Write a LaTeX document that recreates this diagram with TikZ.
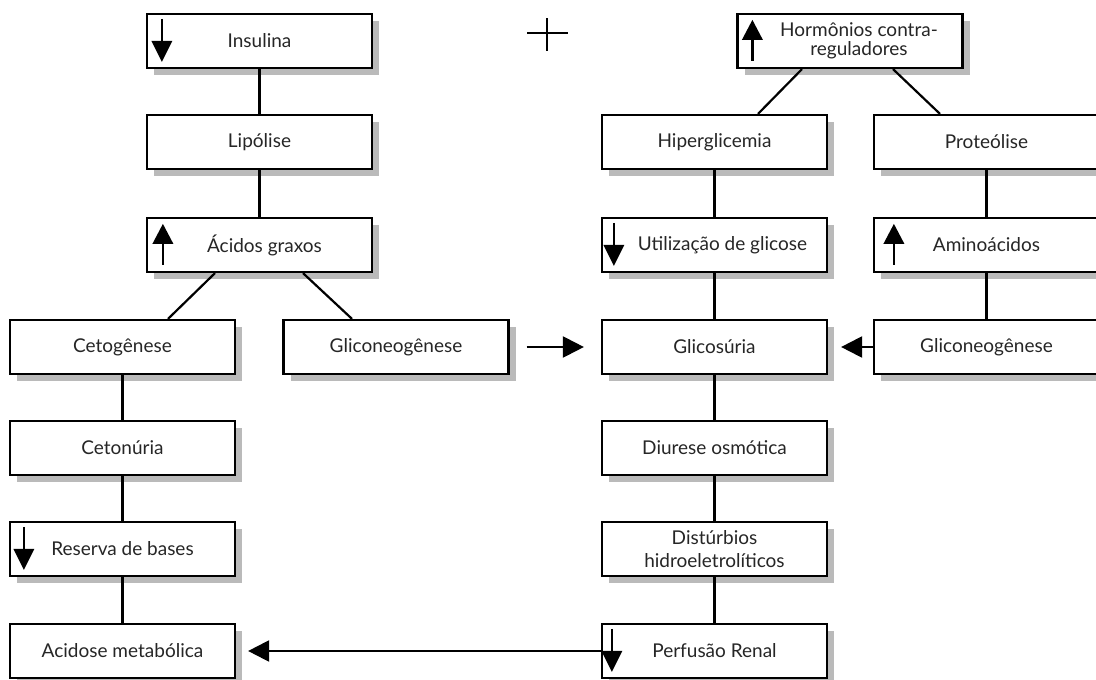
\documentclass[tikz,border=0pt]{standalone}
\usepackage{fontspec}
\setmainfont{Lato}
\usetikzlibrary{arrows.meta,calc}

\tikzset{
  box/.style={draw=black, line width=2.2pt, fill=white, rectangle,
    minimum width=225pt, minimum height=54pt, inner sep=0pt,
    text=black!85, font=\fontsize{19}{23}\selectfont, align=center},
  boxshadow/.style={fill=black, fill opacity=0.27},
  link/.style={line width=2.2pt, draw=black},
  flow/.style={line width=2.2pt, draw=black, -{Triangle[length=21pt,width=21pt]}},
  markline/.style={line width=2.2pt, draw=black},
}

% a box: translucent drop shadow, then the framed node on top
\newcommand\shadowedbox[4]{%
  \fill[boxshadow] (#2-105.5,#3-20) -- (#2+119.5,#3-20) -- (#2+119.5,#3+34)
    -- (#2-105.5,#3+34) -- cycle;
  \node[box] (#1) at (#2,#3) {#4};}

% arrow glyphs drawn inside a box: node, offset from the box's left edge
\newcommand\downmark[2]{%
  \draw[markline] ($(#1.north west)+(#2,6)$) -- ($(#1.north west)+(#2,30)$);
  \fill[black] ($(#1.north west)+(#2-10.5,28)$) -- ($(#1.north west)+(#2+10.5,28)$)
    -- ($(#1.north west)+(#2,49)$) -- cycle;}
\newcommand\upmark[2]{%
  \draw[markline] ($(#1.north west)+(#2,25)$) -- ($(#1.north west)+(#2,48)$);
  \fill[black] ($(#1.north west)+(#2-10.5,27)$) -- ($(#1.north west)+(#2+10.5,27)$)
    -- ($(#1.north west)+(#2,7)$) -- cycle;}

\begin{document}
\begin{tikzpicture}[x=1pt, y=-1pt]
\useasboundingbox (0,0) rectangle (1096,680);

% left branch: insulin deficiency
\shadowedbox{ins}{259.5}{41}{Insulina}
\shadowedbox{lip}{259.5}{142}{Lipólise}
\shadowedbox{acg}{259.5}{245}{\hspace*{10pt}Ácidos graxos}
\shadowedbox{ceto}{122.5}{347}{Cetogênese}
\shadowedbox{gnl}{396}{347}{Gliconeogênese}
\shadowedbox{cetu}{122.5}{448}{Cetonúria}
\shadowedbox{res}{122.5}{549}{Reserva de bases}
\shadowedbox{acid}{122.5}{651}{Acidose metabólica}

% right branch: counter-regulatory hormones
\shadowedbox{horm}{850}{41}{\hspace*{18pt}\begin{tabular}{@{}c@{}}Hormônios contra-\\[-4pt]reguladores\end{tabular}}
\shadowedbox{hip}{714.5}{142}{Hiperglicemia}
\shadowedbox{util}{714.5}{245}{\hspace*{16pt}Utilização de glicose}
\shadowedbox{glic}{714.5}{347}{Glicosúria}
\shadowedbox{diur}{714.5}{448}{Diurese osmótica}
\shadowedbox{dist}{714.5}{549}{Distúrbios\\hidroeletrolíticos}
\shadowedbox{perf}{714.5}{651}{Perfusão Renal}
\shadowedbox{prot}{986.5}{142}{Proteólise}
\shadowedbox{amin}{986.5}{245}{Aminoácidos}
\shadowedbox{gnr}{986.5}{347}{Gliconeogênese}

% arrow glyphs inside boxes
\downmark{ins}{16}
\upmark{acg}{17}
\downmark{res}{15}
\upmark{horm}{16}
\downmark{util}{13}
\upmark{amin}{21}
\downmark{perf}{11}

% plus sign between the two branches
\draw[line width=1.2pt] (527,33) -- (568,33);
\draw[line width=1.2pt] (547,18) -- (547,51);

% plain links
\draw[link] (ins) -- (lip);
\draw[link] (lip) -- (acg);
\draw[link] ($(acg.south)+(-44.5,0)$) -- ($(ceto.north)+(45.5,0)$);
\draw[link] ($(acg.south)+(43.5,0)$) -- ($(gnl.north)+(-44,0)$);
\draw[link] (ceto) -- (cetu);
\draw[link] (cetu) -- (res);
\draw[link] (res) -- (acid);

\draw[link] ($(horm.south)+(-48,0)$) -- ($(hip.north)+(43.5,0)$);
\draw[link] ($(horm.south)+(43,0)$) -- ($(prot.north)+(-46.5,0)$);
\draw[link] (hip) -- (util);
\draw[link] (util) -- (glic);
\draw[link] (glic) -- (diur);
\draw[link] (diur) -- (dist);
\draw[link] (dist) -- (perf);
\draw[link] (prot) -- (amin);
\draw[link] (amin) -- (gnr);

% arrows
\draw[flow, shorten <=17pt, shorten >=17pt] (gnl) -- (glic);
\draw[flow, shorten >=13pt] (gnr) -- (glic);
\draw[flow, shorten >=12pt] (perf) -- (acid);
\end{tikzpicture}
\end{document}
